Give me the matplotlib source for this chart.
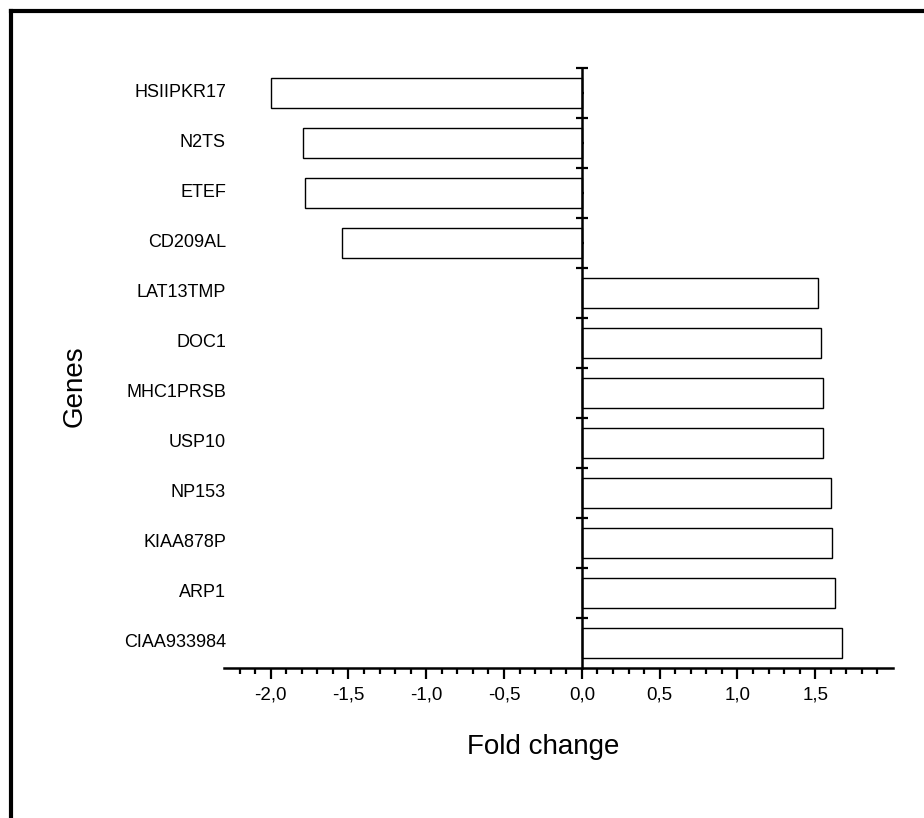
import matplotlib
matplotlib.use("Agg")
import matplotlib.pyplot as plt
from matplotlib.lines import Line2D
from matplotlib.ticker import FixedLocator, FuncFormatter
import matplotlib.transforms as mtransforms

# ------------------------------
# data (bottom -> top)
# ------------------------------
genes = ["CIAA933984", "ARP1", "KIAA878P", "NP153", "USP10", "MHC1PRSB",
         "DOC1", "LAT13TMP", "CD209AL", "ETEF", "N2TS", "HSIIPKR17"]
fold_change = [1.67, 1.63, 1.61, 1.60, 1.55, 1.55,
               1.54, 1.52, -1.54, -1.78, -1.79, -2.00]
x_major = [-2.0, -1.5, -1.0, -0.5, 0.0, 0.5, 1.0, 1.5]

plt.rcParams["font.family"] = ["Liberation Sans", "DejaVu Sans"]

fig = plt.figure(figsize=(9.24, 8.18), dpi=100)
ax = fig.add_axes([0.2424, 0.1834, 0.7241, 0.7335])

ypos = list(range(len(genes)))
ax.barh(ypos, fold_change, height=0.6, color="white", edgecolor="black",
        linewidth=1.0, zorder=2)

ax.set_xlim(-2.3, 2.0)
ax.set_ylim(-0.5, len(genes) - 0.5)

# spines: only bottom axis and vertical axis through zero
for s in ["top", "right"]:
    ax.spines[s].set_visible(False)
ax.spines["left"].set_position(("data", 0))
ax.spines["left"].set_linewidth(1.8)
ax.spines["bottom"].set_linewidth(1.8)
ax.spines["left"].set_zorder(3)

# x ticks
ax.xaxis.set_major_locator(FixedLocator(x_major))
ax.xaxis.set_minor_locator(FixedLocator([round(-2.2 + 0.1 * i, 1) for i in range(42)]))
ax.xaxis.set_major_formatter(FuncFormatter(lambda v, p: f"{v:.1f}".replace(".", ",")))
ax.tick_params(axis="x", which="major", direction="out", length=8, width=1.6,
               pad=5, labelsize=13.5)
ax.tick_params(axis="x", which="minor", direction="out", length=4, width=1.6)

# y ticks: boundaries as cross ticks, centers as small ticks
ax.yaxis.set_major_locator(FixedLocator([i + 0.5 for i in ypos]))
ax.yaxis.set_minor_locator(FixedLocator(ypos))
ax.tick_params(axis="y", which="major", direction="inout", length=8, width=1.6,
               labelleft=False)
ax.tick_params(axis="y", which="minor", direction="in", length=1.5, width=1.6)

# gene labels at left edge of axes
trans = mtransforms.blended_transform_factory(ax.transAxes, ax.transData)
for y, g in zip(ypos, genes):
    ax.text(0.003, y, g, transform=trans, ha="right", va="center", fontsize=13)

fig.text(0.5877, 0.0868, "Fold change", ha="center", va="center", fontsize=20)
fig.text(0.0812, 0.528, "Genes", ha="center", va="center", rotation=90, fontsize=20)

# outer frame (top and left only)
fig.add_artist(Line2D([11 / 924, 1.0], [1 - 11 / 818, 1 - 11 / 818],
                      transform=fig.transFigure, color="black", linewidth=3,
                      solid_capstyle="projecting"))
fig.add_artist(Line2D([11 / 924, 11 / 924], [0.0, 1 - 11 / 818],
                      transform=fig.transFigure, color="black", linewidth=3,
                      solid_capstyle="projecting"))

fig.savefig("out.png", dpi=100)
